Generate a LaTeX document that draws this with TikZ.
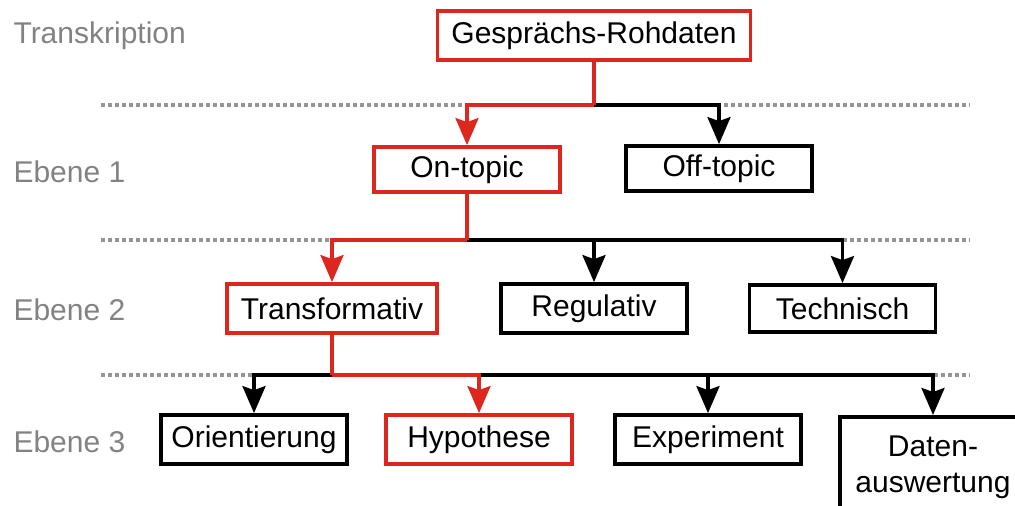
\documentclass[tikz,border=0pt]{standalone}
\usepackage{fontspec}
\setmainfont{Liberation Sans}
\usetikzlibrary{arrows.meta}
\definecolor{boxred}{RGB}{220,38,30}
\definecolor{levelgray}{RGB}{130,130,130}
\tikzset{
  box/.style={draw,line width=3.8pt,minimum width=186pt,minimum height=47pt,inner xsep=14pt},
  redbox/.style={box,draw=boxred},
  level/.style={anchor=base west,text=levelgray},
  sep/.style={draw=levelgray!85,line width=3.5pt,dash pattern=on 4pt off 3pt},
  wire/.style={line width=3.5pt},
}
\begin{document}
\begin{tikzpicture}[x=1pt,y=-1pt,>={Stealth[length=27pt,width=23pt,inset=4pt]},line join=miter,font=\fontsize{30}{36}\selectfont]
\clip (0,0) rectangle (1015,506);
%%
  \node (level_0) at (10,43) [level] {Transkription};
  \node (level_1) at (10,182) [level] {Ebene 1};
  \node (level_2) at (10,320) [level] {Ebene 2};
  \node (level_3) at (10,452) [level] {Ebene 3};

  \draw [sep] (101,105) -- (970,105);
  \draw [sep] (101,240) -- (970,240);
  \draw [sep] (101,375) -- (970,375);

  \node (node_rohdaten) at (594,35.5) [redbox,minimum height=49pt] {Gespr\"achs-Rohdaten};
  \node (node_ontopic) at (467,169.5) [redbox,minimum height=45pt] {On-topic};
  \node (node_offtopic) at (719,168.5) [box,minimum height=45pt] {Off-topic};
  \node (node_transformativ) at (332,308.5) [redbox,minimum height=49pt] {Transformativ};
  \node (node_regulativ) at (594,308.5) [box,minimum height=49pt] {Regulativ};
  \node (node_technisch) at (842.5,308.5) [box] {Technisch};
  \node (node_orientierung) at (254,439.5) [box,minimum height=49pt,inner xsep=10pt] {Orientierung};
  \node (node_hypothese) at (479,439.5) [redbox,minimum height=49pt] {Hypothese};
  \node (node_experiment) at (708,439.5) [box,minimum height=49pt] {Experiment};
  \node (node_daten) at (933,415) [box,anchor=north,align=center,minimum height=100pt] {Daten-\\auswertung};

  \coordinate (junc_1) at (594,105);
  \coordinate (junc_2) at (467,240);
  \coordinate (junc_3) at (332,375);

  \draw [wire,->] (junc_1) -| (node_offtopic);
  \draw [wire,boxred] (node_rohdaten) -- (junc_1);
  \draw [wire,boxred,->] (junc_1) -| (node_ontopic);

  \draw [wire,->] (junc_2) -| (node_regulativ);
  \draw [wire,->] (junc_2) -| (node_technisch);
  \draw [wire,boxred] (node_ontopic) -- (junc_2);
  \draw [wire,boxred,->] (junc_2) -| (node_transformativ);

  \draw [wire,->] (junc_3) -| (node_orientierung);
  \draw [wire,->] (junc_3) -| (node_experiment);
  \draw [wire,->] (junc_3) -| (node_daten);
  \draw [wire,boxred] (node_transformativ) -- (junc_3);
  \draw [wire,boxred,->] (junc_3) -| (node_hypothese);

\end{tikzpicture}
\end{document}
